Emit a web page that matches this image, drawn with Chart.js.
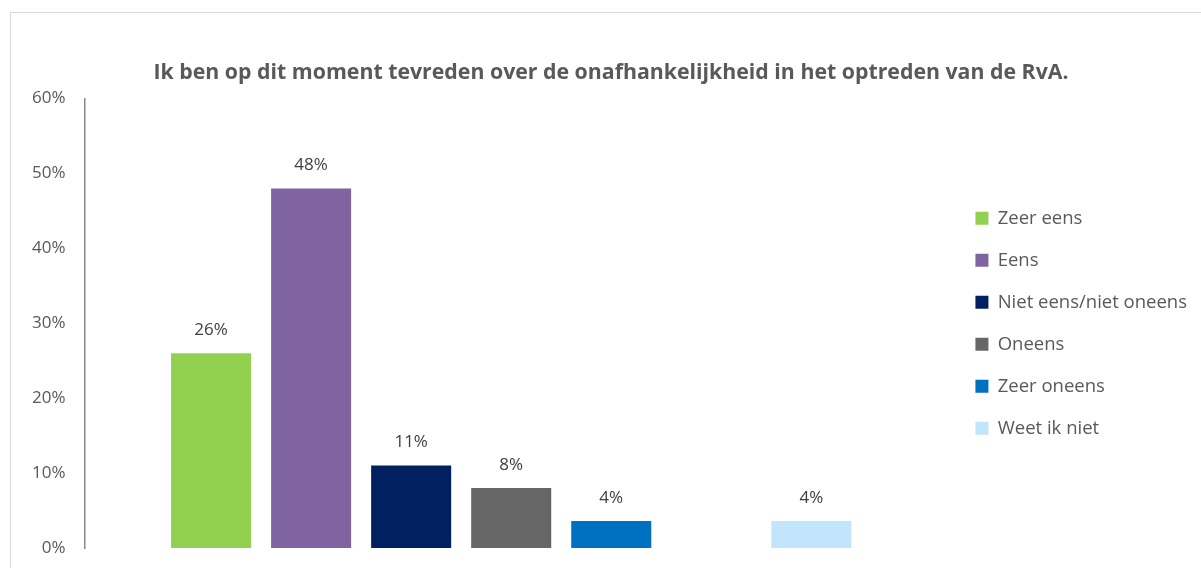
<!DOCTYPE html>
<html>
<head>
<meta charset="utf-8">
<script src="https://cdn.jsdelivr.net/npm/chart.js@4"></script>
<style>
  html, body { margin: 0; padding: 0; background: #fff; overflow: hidden; }
  #frame { position: absolute; left: 10px; top: 12px; width: 1400px; height: 800px; border: 1px solid #d9d9d9; }
  #wrap { position: absolute; left: 0; top: 0; width: 1201px; height: 568px; }
</style>
</head>
<body>
<div id="frame"></div>
<div id="wrap"><canvas id="chart" width="1201" height="568"></canvas></div>
<script>
// Antwoordcategorieën (lege plek tussen "Zeer oneens" en "Weet ik niet")
const categories = ['Zeer eens', 'Eens', 'Niet eens/niet oneens', 'Oneens', 'Zeer oneens', '', 'Weet ik niet'];
const values = [26, 48, 11, 8, 3.6, null, 3.6];
const barColors = ['#92D050', '#8064A2', '#002060', '#666666', '#0070C0', '#ffffff', '#C0E5FC'];
const yTicks = [0, 10, 20, 30, 40, 50, 60];

const FONT = 'Open Sans';
const TEXT = '#595959';

// labels boven de staven
const barLabels = {
  id: 'barLabels',
  afterDatasetsDraw(chart) {
    const { ctx } = chart;
    ctx.save();
    ctx.font = `17px "${FONT}"`;
    ctx.fillStyle = '#404040';
    ctx.textAlign = 'center';
    ctx.textBaseline = 'middle';
    chart.data.datasets.forEach((ds, i) => {
      const meta = chart.getDatasetMeta(i);
      meta.data.forEach((el, j) => {
        const v = ds.data[j];
        if (v == null) return;
        ctx.fillText(Math.round(v) + '%', el.x, el.y - 23);
      });
    });
    ctx.restore();
  }
};

function draw() {
  new Chart(document.getElementById('chart'), {
    type: 'bar',
    data: {
      labels: [''],
      datasets: categories.map((c, i) => ({
        label: c,
        data: [values[i]],
        backgroundColor: barColors[i],
        categoryPercentage: 0.8206,
        barPercentage: 0.8
      }))
    },
    options: {
      responsive: false,
      animation: false,
      layout: { padding: { left: 25, right: 4, top: 0, bottom: 20 } },
      plugins: {
        title: {
          display: true,
          text: 'Ik ben op dit moment tevreden over de onafhankelijkheid in het optreden van de RvA.',
          color: TEXT,
          font: { family: FONT, size: 21.3, weight: 'bold' },
          padding: { top: 60, bottom: 13 }
        },
        legend: {
          position: 'right',
          fullSize: false,
          maxWidth: 320,
          labels: {
            color: TEXT,
            font: { family: FONT, size: 18.5 },
            boxWidth: 13, boxHeight: 13,
            padding: 23.5,
            filter: item => item.text !== ''
          }
        },
        tooltip: { enabled: false }
      },
      scales: {
        x: { display: false },
        y: {
          min: 0, max: 60,
          afterBuildTicks: s => { s.ticks = yTicks.map(v => ({ value: v })); },
          afterFit: s => { s.paddingTop = 0; s.paddingBottom = 0; s.width -= 12; },
          ticks: { color: TEXT, font: { family: FONT, size: 17 }, padding: 19, callback: v => v + '%' },
          grid: { display: false, drawTicks: false },
          border: { display: true, color: '#878787', width: 1.5 }
        },
        gap: {
          position: 'right',
          display: true,
          ticks: { display: false },
          grid: { display: false, drawTicks: false },
          border: { display: false },
          afterFit: s => { s.width = 14; }
        }
      }
    },
    plugins: [barLabels]
  });
}

Promise.all([
  document.fonts.load(`17px "${FONT}"`),
  document.fonts.load(`bold 21px "${FONT}"`)
]).then(draw, draw);
</script>
</body>
</html>
